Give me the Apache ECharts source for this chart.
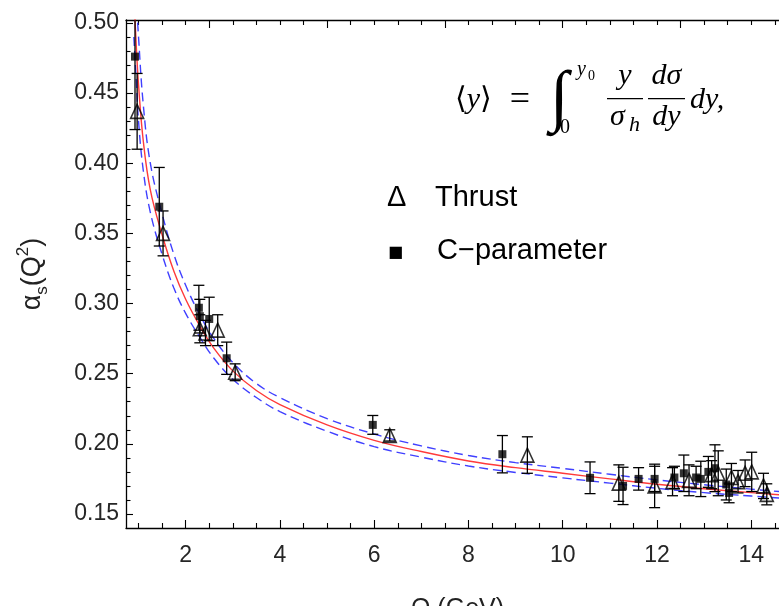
<!DOCTYPE html>
<html><head><meta charset="utf-8">
<script src="https://cdn.jsdelivr.net/npm/echarts@6/dist/echarts.min.js"></script>
<style>html,body{margin:0;padding:0;background:#fff}#c{width:779px;height:606px}</style>
</head><body><div id="c"></div>
<script>
// ---- curves ----
const curveQ       = [0.9, 0.95, 1.0, 1.1, 1.25, 1.5, 1.75, 2.0, 2.3, 2.6, 3.0, 3.5, 4.0, 5.0, 6.0, 7.0, 8.0, 9.0, 10.0, 11.0, 12.0, 13.0, 14.0, 14.59];
const centralAlpha = [0.522, 0.485, 0.456, 0.416, 0.381, 0.349, 0.323, 0.303, 0.284, 0.268, 0.252, 0.238, 0.228, 0.2135, 0.2025, 0.1945, 0.1878, 0.1830, 0.1790, 0.1750, 0.1712, 0.1680, 0.1652, 0.1637];
const upperAlpha   = [0.560, 0.520, 0.490, 0.442, 0.400, 0.364, 0.335, 0.313, 0.292, 0.275, 0.258, 0.243, 0.233, 0.218, 0.207, 0.1985, 0.1917, 0.1866, 0.1825, 0.1783, 0.1743, 0.1708, 0.1677, 0.1660];
const lowerAlpha   = [0.490, 0.460, 0.430, 0.395, 0.365, 0.335, 0.311, 0.293, 0.276, 0.261, 0.246, 0.233, 0.223, 0.209, 0.198, 0.1905, 0.1842, 0.1796, 0.1757, 0.1720, 0.1683, 0.1652, 0.1628, 0.1614];

// ---- Thrust data ----
const thrustQ     = [0.97, 1.52, 2.30, 2.42, 2.68, 3.05, 6.33, 9.25, 11.19, 11.95, 12.33, 12.68, 13.16, 13.30, 13.58, 13.72, 13.87, 14.01, 14.26, 14.33];
const thrustAlpha = [0.437, 0.350, 0.282, 0.279, 0.281, 0.251, 0.206, 0.192, 0.172, 0.170, 0.173, 0.174, 0.178, 0.179, 0.176, 0.173, 0.179, 0.180, 0.170, 0.164];
const thrustErr   = [0.027, 0.016, 0.010, 0.009, 0.011, 0.006, 0.004, 0.013, 0.013, 0.0155, 0.010, 0.011, 0.010, 0.016, 0.010, 0.008, 0.0095, 0.014, 0.009, 0.0075];

// ---- C-parameter data ----
const cparQ     = [0.925, 1.44, 2.28, 2.30, 2.50, 2.87, 5.97, 8.72, 10.58, 11.28, 11.61, 11.95, 12.37, 12.57, 12.83, 12.93, 13.09, 13.23, 13.47, 13.53];
const cparAlpha = [0.476, 0.369, 0.297, 0.291, 0.289, 0.261, 0.2135, 0.1926, 0.1758, 0.170, 0.175, 0.175, 0.176, 0.179, 0.176, 0.175, 0.180, 0.1826, 0.171, 0.165];
const cparErr   = [0.052, 0.028, 0.016, 0.012, 0.0155, 0.0115, 0.0067, 0.0133, 0.0113, 0.0133, 0.008, 0.009, 0.008, 0.013, 0.008, 0.0126, 0.011, 0.0167, 0.011, 0.007];

// ---- axes ----
const X_MIN = 0.734, X_MAX = 14.589, Y_MIN = 0.14, Y_MAX = 0.5021;
const xMajorTicks    = [2, 4, 6, 8, 10, 12, 14];
const xMinorTicks    = [1, 1.5, 2.5, 3, 3.5, 4.5, 5, 5.5, 6.5, 7, 7.5, 8.5, 9, 9.5, 10.5, 11, 11.5, 12.5, 13, 13.5, 14.5];
const xTopMajorTicks = [2.5, 5, 7.5, 10, 12.5];
const xTopMinorTicks = [1, 1.5, 2, 3, 3.5, 4, 4.5, 5.5, 6, 6.5, 7, 8, 8.5, 9, 9.5, 10.5, 11, 11.5, 12, 13, 13.5, 14, 14.5];
const yMajorTicks    = [0.15, 0.20, 0.25, 0.30, 0.35, 0.40, 0.45, 0.50];
const yMinorTicks    = [0.16, 0.17, 0.18, 0.19, 0.21, 0.22, 0.23, 0.24, 0.26, 0.27, 0.28, 0.29, 0.31, 0.32, 0.33, 0.34,
                        0.36, 0.37, 0.38, 0.39, 0.41, 0.42, 0.43, 0.44, 0.46, 0.47, 0.48, 0.49];

const SANS = '"Liberation Sans", Arial, sans-serif';
const SERIF = '"Liberation Serif", "DejaVu Serif", serif';
const AX = {color: '#000', width: 1.3};

function xAxisDef(pos, ticks, len, showLine, extra) {
  return Object.assign({
    type: 'value', position: pos, min: X_MIN, max: X_MAX,
    axisLine: {show: showLine, onZero: false, lineStyle: AX},
    axisTick: {show: true, inside: true, length: len, customValues: ticks, lineStyle: {color: '#000', width: 1.1}},
    axisLabel: {show: false},
    splitLine: {show: false}, minorTick: {show: false}
  }, extra || {});
}
function yAxisDef(ticks, len, showLine, extra) {
  return Object.assign({
    type: 'value', position: 'left', min: Y_MIN, max: Y_MAX,
    axisLine: {show: showLine, onZero: false, lineStyle: AX},
    axisTick: {show: true, inside: true, length: len, customValues: ticks, lineStyle: {color: '#000', width: 1.1}},
    axisLabel: {show: false},
    splitLine: {show: false}, minorTick: {show: false}
  }, extra || {});
}

function errRender(params, api) {
  const q = api.value(0), a = api.value(1), e = api.value(2);
  const hi = Math.min(a + e, Y_MAX), lo = Math.max(a - e, Y_MIN);
  const p1 = api.coord([q, hi]), p2 = api.coord([q, lo]);
  const hw = 5.5;
  const st = {stroke: '#000', lineWidth: 1.3};
  const ch = [{type: 'line', shape: {x1: p1[0], y1: p1[1], x2: p2[0], y2: p2[1]}, style: st}];
  if (a + e <= Y_MAX) ch.push({type: 'line', shape: {x1: p1[0] - hw, y1: p1[1], x2: p1[0] + hw, y2: p1[1]}, style: st});
  if (a - e >= Y_MIN) ch.push({type: 'line', shape: {x1: p2[0] - hw, y1: p2[1], x2: p2[0] + hw, y2: p2[1]}, style: st});
  return {type: 'group', children: ch};
}

const thrustData = thrustQ.map((q, i) => [q, thrustAlpha[i], thrustErr[i]]);
const cparData = cparQ.map((q, i) => [q, cparAlpha[i], cparErr[i]]);
const lineOf = arr => curveQ.map((q, i) => [q, arr[i]]);

function txt(text, x, y, font, align, extra) {
  return Object.assign({
    type: 'text', x: x, y: y, silent: true,
    style: {text: text, font: font, fill: '#000', align: align || 'left', verticalAlign: 'middle',
            textAlign: align || 'left', textVerticalAlign: 'middle'}
  }, extra || {});
}

const chart = echarts.init(document.getElementById('c'), null, {renderer: 'canvas'});
chart.setOption({
  animation: false,
  backgroundColor: '#fff',
  grid: {left: 126, right: 0, top: 20, bottom: 78, containLabel: false, outerBoundsMode: 'none'},
  xAxis: [
    xAxisDef('bottom', xMajorTicks, 8, true, {
      axisLabel: {show: true, customValues: xMajorTicks, fontSize: 23, fontFamily: SANS, color: '#262626', margin: 16},
      name: 'Q (GeV)', nameLocation: 'middle', nameGap: 69,
      nameTextStyle: {fontSize: 25, fontFamily: SANS, color: '#222', padding: [0, 0, 0, 10]}
    }),
    xAxisDef('bottom', xMinorTicks, 5, false),
    xAxisDef('top', xTopMajorTicks, 8, true),
    xAxisDef('top', xTopMinorTicks, 5, false)
  ],
  yAxis: [
    yAxisDef(yMajorTicks, 7, true, {
      axisLabel: {show: true, customValues: yMajorTicks, fontSize: 23, fontFamily: SANS, color: '#262626', margin: 7,
                  formatter: v => v.toFixed(2)},
      name: '{a|α}{s|s}{p|(Q}{u|2}{p|)}', nameLocation: 'middle', nameRotate: 90, nameGap: 75,
      nameTextStyle: {
        rich: {
          a: {fontSize: 27, fontFamily: SANS, color: '#222', lineHeight: 36},
          p: {fontSize: 27, fontFamily: SANS, color: '#222', lineHeight: 36},
          s: {fontSize: 17, fontFamily: SANS, color: '#222', lineHeight: 17, verticalAlign: 'bottom'},
          u: {fontSize: 17, fontFamily: SANS, color: '#222', lineHeight: 17, verticalAlign: 'top'}
        }
      }
    }),
    yAxisDef(yMinorTicks, 4.5, false)
  ],
  series: [
    {name: 'upper', type: 'line', data: lineOf(upperAlpha), smooth: 0.4, showSymbol: false, clip: true,
     lineStyle: {color: '#4040ff', width: 1.4, type: [9, 5]}, z: 2, silent: true},
    {name: 'lower', type: 'line', data: lineOf(lowerAlpha), smooth: 0.4, showSymbol: false, clip: true,
     lineStyle: {color: '#4040ff', width: 1.4, type: [9, 5]}, z: 2, silent: true},
    {name: 'central', type: 'line', data: lineOf(centralAlpha), smooth: 0.4, showSymbol: false, clip: true,
     lineStyle: {color: '#ff3a3a', width: 1.4}, z: 3, silent: true},
    {name: 'Thrust err', type: 'custom', data: thrustData, renderItem: errRender, z: 4, silent: true},
    {name: 'C-parameter err', type: 'custom', data: cparData, renderItem: errRender, z: 4, silent: true},
    {name: 'Thrust', type: 'scatter', data: thrustData.map(d => [d[0], d[1]]), symbol: 'triangle', symbolSize: [13, 14],
     itemStyle: {color: 'rgba(255,255,255,0)', borderColor: '#000', borderWidth: 1.6}, z: 5, silent: true},
    {name: 'C-parameter', type: 'scatter', data: cparData.map(d => [d[0], d[1]]), symbol: 'rect', symbolSize: 8,
     itemStyle: {color: '#000'}, z: 6, silent: true}
  ],
  graphic: {elements: [
    // formula  <y> = ∫_0^{y0} (y/σ_h)(dσ/dy) dy,
    txt('{u|⟨}{i|y}{u|⟩}', 455, 100.5, '30px ' + SERIF, 'left', {style: {text: '{u|⟨}{i|y}{u|⟩}', align: 'left', verticalAlign: 'middle',
        rich: {u: {fontSize: 30, fontFamily: SERIF}, i: {fontSize: 30, fontFamily: SERIF, fontStyle: 'italic'}}}}),
    txt('=', 520, 100.5, '36px ' + SERIF, 'center'),
    txt('∫', 559, 100, '68px ' + SERIF, 'center'),
    txt('y', 577, 70, 'italic 20px ' + SERIF, 'left'),
    txt('0', 588, 76, '14px ' + SERIF, 'left'),
    txt('0', 565, 128, '20px ' + SERIF, 'center'),
    txt('y', 625, 76, 'italic 30px ' + SERIF, 'center'),
    {type: 'line', shape: {x1: 607, y1: 98.7, x2: 643, y2: 98.7}, style: {stroke: '#000', lineWidth: 1.2}, silent: true},
    txt('σ', 610, 117.5, 'italic 30px ' + SERIF, 'left'),
    txt('h', 629, 125.5, 'italic 22px ' + SERIF, 'left'),
    txt('dσ', 666.5, 76, 'italic 30px ' + SERIF, 'center'),
    {type: 'line', shape: {x1: 648, y1: 98.7, x2: 685, y2: 98.7}, style: {stroke: '#000', lineWidth: 1.2}, silent: true},
    txt('dy', 666.5, 117.5, 'italic 30px ' + SERIF, 'center'),
    txt('dy,', 690, 100.5, 'italic 30px ' + SERIF, 'left'),
    // legend
    txt('Δ', 387, 197.5, '29px ' + SANS, 'left'),
    txt('Thrust', 435, 197.5, '29px ' + SANS, 'left'),
    txt('■', 395.5, 252.5, '16px "DejaVu Sans", sans-serif', 'center'),
    txt('C−parameter', 437, 250.5, '29px ' + SANS, 'left')
  ]}
});
</script>
</body></html>
